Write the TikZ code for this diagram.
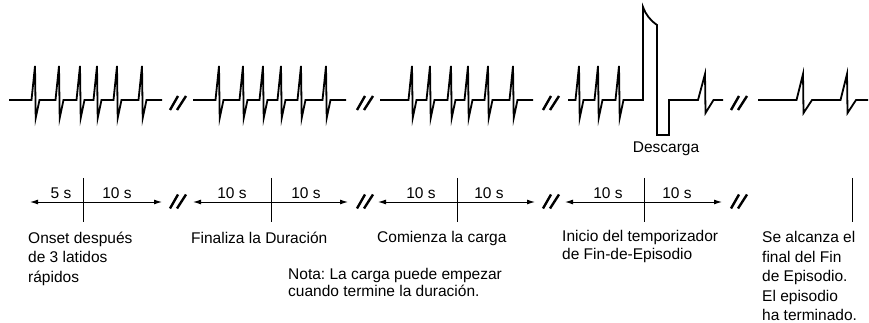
\documentclass[tikz,border=0pt]{standalone}
\usepackage{fontspec}
\setmainfont{Liberation Sans}
\usetikzlibrary{arrows.meta}
\frenchspacing
\tikzset{
  ecg/.style={line width=1.8pt, line join=miter},   % heart trace
  brk/.style={line width=2.4pt},                     % break marks
  span/.style={line width=1pt, {Latex[length=8pt,width=5pt]}-{Latex[length=8pt,width=5pt]}},
  vtick/.style={line width=1pt},
  lbl/.style={font=\fontsize{15.5}{19.5}\selectfont, align=left, anchor=north west, inner sep=0pt},
  dur/.style={font=\fontsize{15.5}{17}\selectfont, anchor=base, inner sep=0pt}
}

\begin{document}
\begin{tikzpicture}[x=1pt, y=-1pt]
    \useasboundingbox (0,0) rectangle (869,323);

    % Break mark centred at (#1,#2)
    \def\brkmark#1#2{%
      \draw[brk] ({#1-8},{#2+7}) -- ({#1},{#2-7});
      \draw[brk] ({#1-1},{#2+7}) -- ({#1+8},{#2-7});
    }

    % Fast beats
    \draw[ecg] (9,100) foreach \p in {35,59,80,97,117,142}
      { -- ({\p-3.5},100) -- (\p,66) -- ({\p+0.7},118) -- ({\p+4.5},100) } -- (162,100);
    \draw[ecg] (193,100) foreach \p in {219,243,263,281,301,326}
      { -- ({\p-3.5},100) -- (\p,66) -- ({\p+0.7},118) -- ({\p+4.5},100) } -- (346,100);
    \draw[ecg] (380,100) foreach \p in {412,430,451,468,488,513}
      { -- ({\p-3.5},100) -- (\p,66) -- ({\p+0.7},118) -- ({\p+4.5},100) } -- (533,100);

    % Beats, shock, then slow beats
    \draw[ecg] (568,100) foreach \p in {579,598,619}
      { -- ({\p-3.5},100) -- (\p,66) -- ({\p+0.7},118) -- ({\p+4.5},100) }
      -- (643,100) -- (643,7) .. controls (646,15) and (650,20) .. (657,25)
      -- (657,135) -- (669,135) -- (669,100)
      foreach \p in {705} { -- ({\p-7},100) -- (\p,74) -- ({\p+0.5},113) -- ({\p+8.5},100) }
      -- (723,100);
    \draw[ecg] (758,100) foreach \p in {803,847}
      { -- ({\p-6.5},100) -- (\p,74) -- ({\p+0.5},113) -- ({\p+9},100) } -- (868,100);

    \node[dur] (shock) at (666,153) {Descarga};

    % Break marks
    \foreach \x in {178,365,551,739} {
      \brkmark{\x}{103}
      \brkmark{\x}{201.5}
    }

    % Time spans
    \foreach \l/\t/\r [count=\i] in {30/83/162, 193/271/348, 378/457/535, 565/644/722} {
      \coordinate (L\i) at (\l,202);
      \coordinate (R\i) at (\r,202);
      \coordinate (T\i) at (\t,178);
      \coordinate (B\i) at (\t,222);
      \draw[span] (L\i) -- (R\i);
      \draw[vtick] (T\i) -- (B\i);
    }
    \coordinate (T5) at (852,178);
    \coordinate (B5) at (852,222);
    \draw[vtick] (T5) -- (B5);

    \node[dur] (d1a) at (61,198) {5 s};
    \node[dur] (d1b) at (117,198) {10 s};
    \node[dur] (d2a) at (232,198) {10 s};
    \node[dur] (d2b) at (306,198) {10 s};
    \node[dur] (d3a) at (421,198) {10 s};
    \node[dur] (d3b) at (489,198) {10 s};
    \node[dur] (d4a) at (608,198) {10 s};
    \node[dur] (d4b) at (677,198) {10 s};

    % Captions
    \node[lbl] (onset) at (28,231.4) {Onset después\\de 3 latidos\\rápidos};
    \node[lbl] (endur) at (191,231.4) {Finaliza la Duración};
    \node[lbl] (charge) at (377,231.4) {Comienza la carga};
    \node[lbl, font=\fontsize{15.5}{17}\selectfont] (note) at (288,268.5) {Nota: La carga puede empezar\\cuando termine la duración.};
    \node[lbl, font=\fontsize{15.5}{18.5}\selectfont] (timer) at (562,230) {Inicio del temporizador\\de Fin-de-Episodio};
    \node[lbl] (done) at (762,231.4) {Se alcanza el\\final del Fin\\de Episodio.\\El episodio\\ha terminado.};
\end{tikzpicture}
\end{document}
